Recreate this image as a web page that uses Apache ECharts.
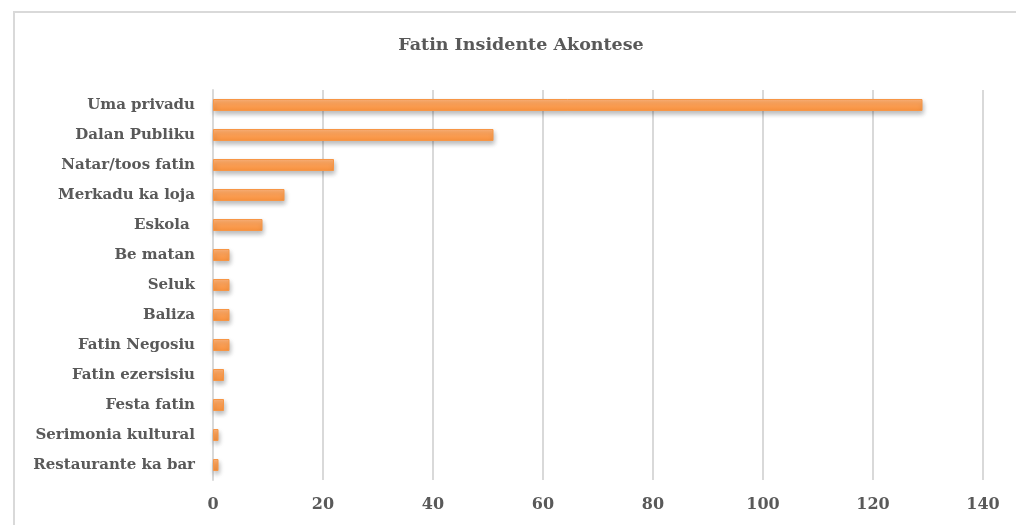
<!DOCTYPE html>
<html>
<head>
<meta charset="utf-8">
<style>
html,body{margin:0;padding:0;background:#fff;}
#c{width:1016px;height:525px;}
</style>
<script src="https://cdn.jsdelivr.net/npm/echarts@6/dist/echarts.min.js"></script>
</head>
<body>
<div id="c"></div>
<script>
const titleText = 'Fatin Insidente Akontese';
const categories = ['Uma privadu','Dalan Publiku','Natar/toos fatin','Merkadu ka loja','Eskola ','Be matan','Seluk','Baliza','Fatin Negosiu','Fatin ezersisiu','Festa fatin','Serimonia kultural','Restaurante ka bar'];
const values = [129, 51, 22, 13, 9, 3, 3, 3, 3, 2, 2, 1, 1];
const xTicks = {min: 0, max: 140, interval: 20};

const font = "'DejaVu Serif', serif";
const chart = echarts.init(document.getElementById('c'));
chart.setOption({
  animation: false,
  graphic: [{
    type: 'rect', silent: true,
    shape: {x: 14, y: 12, width: 1010, height: 520},
    style: {fill: 'none', stroke: '#d9d9d9', lineWidth: 2}
  }, {
    type: 'text', silent: true, x: 521, y: 45,
    style: {text: titleText, align: 'center', verticalAlign: 'middle',
      font: "bold 17.5px 'DejaVu Serif', serif", fill: '#595959'}
  }],
  grid: {left: 213, right: 33, top: 90, bottom: 45, containLabel: false},
  xAxis: {
    type: 'value', min: xTicks.min, max: xTicks.max, interval: xTicks.interval,
    axisLine: {show: false}, axisTick: {show: false},
    splitLine: {lineStyle: {color: '#d9d9d9', width: 2}},
    axisLabel: {fontFamily: font, fontWeight: 'bold', fontSize: 16, color: '#595959', margin: 17}
  },
  yAxis: {
    type: 'category', data: categories, inverse: true,
    axisLine: {show: true, lineStyle: {color: '#d9d9d9', width: 2}},
    axisTick: {show: false},
    axisLabel: {fontFamily: font, fontWeight: 'bold', fontSize: 15, color: '#595959', margin: 18}
  },
  series: [{
    type: 'bar', data: values, barWidth: 12,
    itemStyle: {
      color: new echarts.graphic.LinearGradient(0, 0, 0, 1, [
        {offset: 0, color: '#FDB27A'},
        {offset: 0.35, color: '#FFA55C'},
        {offset: 1, color: '#F8913D'}
      ]),
      borderColor: '#F79646', borderWidth: 1,
      shadowColor: 'rgba(0,0,0,0.28)', shadowBlur: 5, shadowOffsetX: 1, shadowOffsetY: 3
    }
  }]
});
</script>
</body>
</html>
